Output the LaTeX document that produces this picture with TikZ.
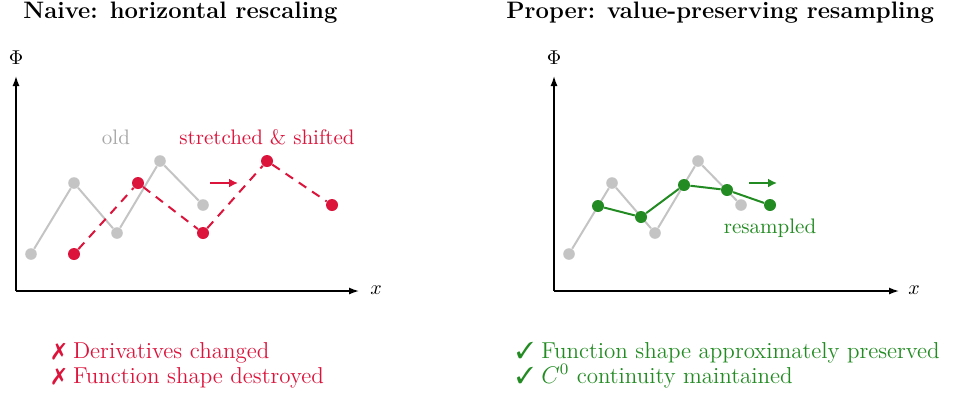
\documentclass[tikz,border=0pt]{standalone}
\usepackage{pifont}
\usetikzlibrary{arrows.meta}
\definecolor{cred}{RGB}{220,20,60}
\definecolor{cgreen}{RGB}{34,139,34}
\definecolor{cgray}{RGB}{196,196,196}
\begin{document}
\begin{tikzpicture}[x=0.5pt,y=-0.5pt,
  axis/.style={line width=0.7pt,-{Latex[length=5pt,width=3.5pt]}},
  gdot/.style={circle,fill=cgray,inner sep=0pt,minimum size=5.8pt},
  rdot/.style={circle,fill=cred,inner sep=0pt,minimum size=6pt},
  edot/.style={circle,fill=cgreen,inner sep=0pt,minimum size=6pt},
  gline/.style={cgray,line width=1pt},
  rline/.style={cred,line width=1pt,dash pattern=on 4.5pt off 3.5pt},
  eline/.style={cgreen,line width=1pt},
  title/.style={font=\fontsize{11.9}{14}\selectfont\bfseries,anchor=base west,inner sep=0pt},
  lab/.style={font=\fontsize{10.5}{12}\selectfont,inner sep=0pt,anchor=base},
  note/.style={font=\fontsize{11.5}{13}\selectfont,inner sep=0pt,anchor=base west},
  shiftarrow/.style={line width=1pt,-{Latex[length=4.5pt,width=4.5pt]}}
]
\useasboundingbox (0,0) rectangle (956,392);
% titles
\node[title] (t1) at (23,18) {Naive: horizontal rescaling};
\node[title] (t2) at (506,18) {Proper: value-preserving resampling};
% left axes
\coordinate (o1) at (16,291);
\coordinate (y1) at (16,76);
\coordinate (x1) at (359,291);
\draw[axis] (o1) -- (y1);
\draw[axis] (o1) -- (x1);
\node[inner sep=0pt] (phi1) at (16,58) {$\Phi$};
\node[inner sep=0pt] (xl1) at (376,290) {$x$};
% left gray
\node[gdot] (a1) at (31,254) {};
\node[gdot] (a2) at (74,183) {};
\node[gdot] (a3) at (117,233) {};
\node[gdot] (a4) at (160,161) {};
\node[gdot] (a5) at (203,205) {};
\draw[gline] (a1) -- (a2) -- (a3) -- (a4) -- (a5);
% left red
\node[rdot] (r1) at (74,254) {};
\node[rdot] (r2) at (138,183) {};
\node[rdot] (r3) at (203,233) {};
\node[rdot] (r4) at (267,161) {};
\node[rdot] (r5) at (332,205) {};
\draw[rline] (r1) -- (r2) -- (r3) -- (r4) -- (r5);
\node[lab,text=cgray!85!black] (old) at (116,144) {old};
\node[lab,text=cred] (ss) at (267,144) {stretched \& shifted};
\coordinate (ra1) at (210,183);
\coordinate (ra2) at (238,183);
\draw[shiftarrow,cred] (ra1) -- (ra2);
% right axes
\coordinate (o2) at (554,291);
\coordinate (y2) at (554,76);
\coordinate (x2) at (899,291);
\draw[axis] (o2) -- (y2);
\draw[axis] (o2) -- (x2);
\node[inner sep=0pt] (phi2) at (554,58) {$\Phi$};
\node[inner sep=0pt] (xl2) at (914,290) {$x$};
% right gray
\node[gdot] (b1) at (569,254) {};
\node[gdot] (b2) at (612,183) {};
\node[gdot] (b3) at (655,233) {};
\node[gdot] (b4) at (698,161) {};
\node[gdot] (b5) at (741,205) {};
\draw[gline] (b1) -- (b2) -- (b3) -- (b4) -- (b5);
% right green
\node[edot] (e1) at (598,206) {};
\node[edot] (e2) at (641,217) {};
\node[edot] (e3) at (684,185) {};
\node[edot] (e4) at (727,190) {};
\node[edot] (e5) at (770,205) {};
\draw[eline] (e1) -- (e2) -- (e3) -- (e4) -- (e5);
\node[lab,text=cgreen] (rs) at (770,233) {resampled};
\coordinate (ga1) at (749,183);
\coordinate (ga2) at (777,183);
\draw[shiftarrow,cgreen] (ga1) -- (ga2);
% notes
\node[note,text=cred] (n1) at (52,358) {\ding{55} Derivatives changed};
\node[note,text=cred] (n2) at (52,383) {\ding{55} Function shape destroyed};
\node[note,text=cgreen] (n3) at (516,358) {\ding{51} Function shape approximately preserved};
\node[note,text=cgreen] (n4) at (516,383) {\ding{51} $C^0$ continuity maintained};
\end{tikzpicture}
\end{document}
